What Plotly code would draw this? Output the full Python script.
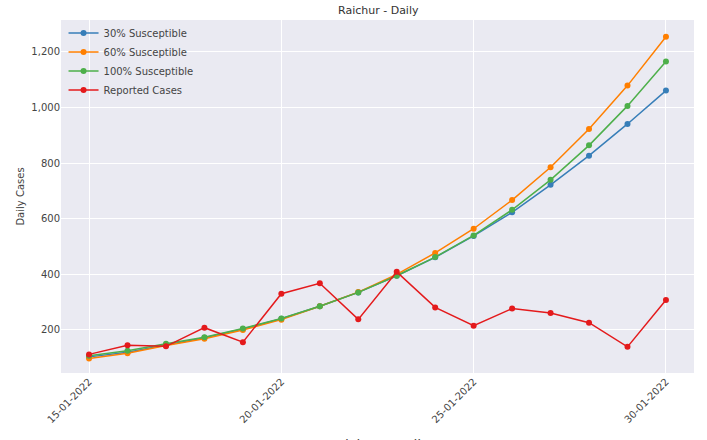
import plotly.graph_objects as go
import pandas as pd

dates = pd.date_range("2022-01-15", "2022-01-30", freq="D")

susceptible_30 = [103, 120, 146, 172, 203, 240, 285, 335, 395, 461, 538, 623, 722, 827, 941, 1061]
susceptible_60 = [97, 116, 144, 168, 200, 237, 285, 336, 400, 477, 564, 667, 785, 923, 1079, 1255]
susceptible_100 = [107, 125, 150, 174, 205, 241, 285, 335, 395, 462, 540, 632, 740, 864, 1006, 1166]
reported = [112, 145, 141, 208, 156, 330, 368, 238, 409, 281, 215, 277, 261, 226, 139, 308]

series = [
    ("30% Susceptible", susceptible_30, "#377eb8"),
    ("60% Susceptible", susceptible_60, "#ff7f00"),
    ("100% Susceptible", susceptible_100, "#4daf4a"),
    ("Reported Cases", reported, "#e41a1c"),
]

fig = go.Figure()
for name, values, color in series:
    fig.add_trace(go.Scatter(
        x=dates, y=values, name=name, mode="lines+markers",
        line=dict(color=color, width=1.5),
        marker=dict(color=color, size=6),
    ))

fig.update_layout(
    template="seaborn",
    width=707, height=440,
    margin=dict(l=61, r=13, t=20, b=67),
    title=dict(text="Raichur - Daily", x=0.535, xanchor="center", y=0.985, yanchor="top",
               font=dict(size=11, color="#333")),
    font=dict(family="DejaVu Sans", size=10, color="#444"),
    legend=dict(x=0.004, y=1.004, xanchor="left", yanchor="top", itemwidth=30,
                bgcolor="rgba(0,0,0,0)", font=dict(size=10, color="#444")),
    showlegend=True,
)
# x-axis caption sits low, partly below the page edge
fig.add_annotation(
    text="Raichur - Daily", xref="paper", yref="paper", x=0.5, y=-0.176,
    xanchor="center", yanchor="top", showarrow=False,
    font=dict(size=14, color="#444"),
)
fig.update_xaxes(
    tickformat="%d-%m-%Y", dtick=5 * 86400000, tick0="2022-01-15",
    tickangle=-45, range=["2022-01-14 06:30", "2022-01-30 17:30"],
    gridcolor="white", showline=False, zeroline=False, automargin=False,
)
fig.update_yaxes(
    tickformat=",", dtick=200, range=[45, 1315],
    title=dict(text="Daily Cases", font=dict(size=10), standoff=4),
    gridcolor="white", zeroline=False, automargin=False,
)

fig.write_html("out.html")
